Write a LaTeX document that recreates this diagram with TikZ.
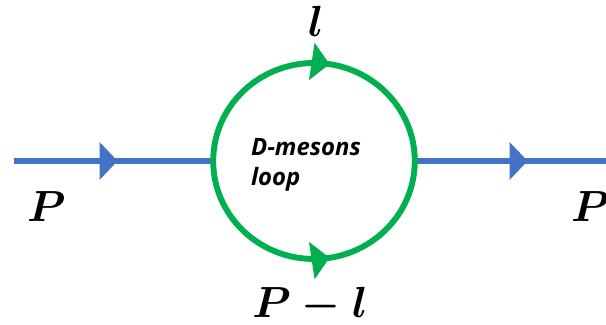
\RequirePackage{fix-cm}
\documentclass[tikz,border=0pt]{standalone}
\usepackage{amsmath}
\usepackage{fontspec}
\newfontfamily\loopfont{Open Sans}
\usetikzlibrary{arrows.meta,decorations.markings,positioning,shapes.geometric}
\definecolor{azul}{HTML}{4472C4}
\definecolor{verde}{HTML}{00B050}

\begin{document}
\begin{tikzpicture}[
  prop/.style={color=azul,line width=4.2pt},
  loopline/.style={color=verde,line width=4.2pt},
  midarrow/.style={postaction={decorate},decoration={markings,
    mark=at position #1 with {\arrow{Triangle[length=0.45cm,width=0.92cm]}}}},
  mom/.style={font=\fontsize{31}{31}\selectfont,inner sep=0pt},
  txt/.style={font=\loopfont\bfseries\itshape\fontsize{17}{21.3}\selectfont,align=left,inner sep=0pt}
]
  \useasboundingbox (0,0) rectangle (15.15,8.125);

  \node[ellipse,minimum width=5.04cm,minimum height=4.9cm,inner sep=0pt,outer sep=0pt] (loop) at (7.85,4.1) {};
  \coordinate (in) at (0.35,4.1);
  \coordinate (out) at (15.15,4.1);

  \draw[prop,midarrow=0.52] (in) -- (loop.west);
  \draw[prop,midarrow=0.59] (loop.east) -- (out);

  \draw[loopline,midarrow=0.55] (loop.west) arc[start angle=180,end angle=0,x radius=2.52cm,y radius=2.45cm];
  \draw[loopline,midarrow=0.55] (loop.west) arc[start angle=180,end angle=360,x radius=2.52cm,y radius=2.45cm];

  \node[txt] (name) at (7.65,4.0) {D-mesons\\loop};

  \node[mom] (pin) at (1.16,2.95) {$\boldsymbol{P}$};
  \node[mom] (pout) at (14.76,2.95) {$\boldsymbol{P}$};
  \node[mom] (ltop) at (7.9,7.6) {$\boldsymbol{l}$};
  \node[mom] (lbot) at (7.75,0.5) {$\boldsymbol{P-l}$};
\end{tikzpicture}
\end{document}
